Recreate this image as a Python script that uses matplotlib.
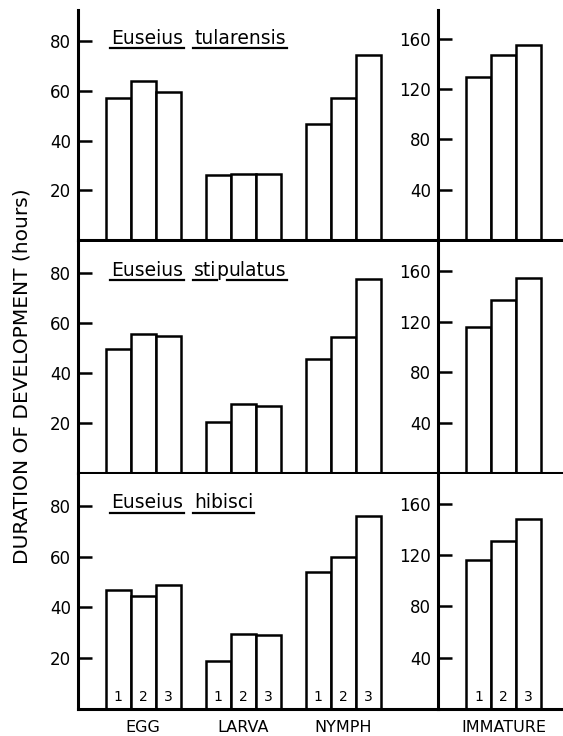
import matplotlib.pyplot as plt
from matplotlib.lines import Line2D
import numpy as np

plt.rcParams['font.family'] = 'DejaVu Sans'

stages = ['EGG', 'LARVA', 'NYMPH']
total_label = 'IMMATURE'
bar_numbers = ['1', '2', '3']

# hours, bars 1-3 for each stage
tularensis_stage = [[57, 64, 59.5], [26, 26.5, 26.5], [46.5, 57, 74.5]]
tularensis_total = [130, 147.5, 155.5]
stipulatus_stage = [[49.5, 55.5, 55], [20.5, 27.5, 27], [45.5, 54.5, 77.5]]
stipulatus_total = [116, 137, 154.5]
hibisci_stage = [[47, 44.5, 49], [19, 29.5, 29], [54, 60, 76]]
hibisci_total = [116, 131, 148]

# (text piece, underlined?)  None = word gap
titles = [
    [('Euseius', True), (None, False), ('tularensis', True)],
    [('Euseius', True), (None, False), ('sti', True), ('p', False), ('ulatus', True)],
    [('Euseius', True), (None, False), ('hibisci', True)],
]
stage_data = [tularensis_stage, stipulatus_stage, hibisci_stage]
total_data = [tularensis_total, stipulatus_total, hibisci_total]

W, H = 563, 736
fig = plt.figure(figsize=(W / 100, H / 100), dpi=100)

rows_px = [(10, 240), (242, 473), (474, 709)]
bw = 0.25
lw_sp = 2.2


def style(ax, yticks):
    for s in ['top', 'right']:
        ax.spines[s].set_visible(False)
    for s in ['left', 'bottom']:
        ax.spines[s].set_linewidth(lw_sp)
        ax.spines[s].set_capstyle('projecting')
    ax.set_yticks(yticks)
    ax.tick_params(axis='y', direction='in', length=10, width=1.8, pad=5, labelsize=12)
    ax.set_xticks([])


axes_left = []
for r, (top, bot) in enumerate(rows_px):
    b = 1 - bot / H
    h = (bot - top) / H
    axl = fig.add_axes([78 / W, b, 360 / W, h])
    axr = fig.add_axes([438 / W, b, 125 / W, h])
    axes_left.append(axl)

    x = np.arange(len(stages))
    for k in range(3):
        vals = [stage_data[r][i][k] for i in range(len(stages))]
        axl.bar(x + (k - 1) * bw, vals, width=bw, facecolor='white',
                edgecolor='black', linewidth=1.8)
        axr.bar([(k - 1) * bw], [total_data[r][k]], width=bw, facecolor='white',
                edgecolor='black', linewidth=1.8)

    axl.set_xlim(-0.65, 2.95)
    axl.set_ylim(0, 92.5)
    axr.set_xlim(-0.655, 0.595)
    axr.set_ylim(0, 183)
    style(axl, [20, 40, 60, 80])
    style(axr, [40, 80, 120, 160])

    if r == 2:
        # stage names under the bottom row
        ylab = 1 - 731.5 / H
        for i, s in enumerate(stages):
            fx = fig.transFigure.inverted().transform(axl.transData.transform((i, 0)))[0]
            fig.text(fx, ylab, s, ha='center', va='baseline', fontsize=11.5)
        fx = fig.transFigure.inverted().transform(axr.transData.transform((0, 0)))[0]
        fig.text(fx, ylab, total_label, ha='center', va='baseline', fontsize=11.5)
        for i in range(len(stages)):
            for k in range(3):
                axl.text(i + (k - 1) * bw, 4.8, bar_numbers[k], ha='center',
                         va='center', fontsize=10)
        for k in range(3):
            axr.text((k - 1) * bw, 9.5, bar_numbers[k], ha='center', va='center',
                     fontsize=10)

fig.text(22 / W, 1 - 376 / H, 'DURATION OF DEVELOPMENT (hours)', rotation=90,
         ha='center', va='center', fontsize=14.5)

# species names with typewriter-style underlines
fig.canvas.draw()
rend = fig.canvas.get_renderer()
inv = fig.transFigure.inverted()
for r, ax in enumerate(axes_left):
    x0 = ax.transAxes.transform((0.092, 0))[0]
    ybase = ax.transData.transform((0, 79.0))[1]
    x = x0
    for piece, ul in titles[r]:
        if piece is None:
            x += 11
            continue
        t = fig.text(*inv.transform((x, ybase)), piece, fontsize=13.5,
                     ha='left', va='baseline')
        bb = t.get_window_extent(rend)
        if ul:
            (fx0, fy), (fx1, _) = inv.transform([(bb.x0 - 1, ybase - 4.5),
                                                 (bb.x1 + 1, ybase - 4.5)])
            fig.add_artist(Line2D([fx0, fx1], [fy, fy], color='black',
                                  linewidth=1.6, transform=fig.transFigure))
        x = bb.x1

fig.savefig('out.png', dpi=100)
